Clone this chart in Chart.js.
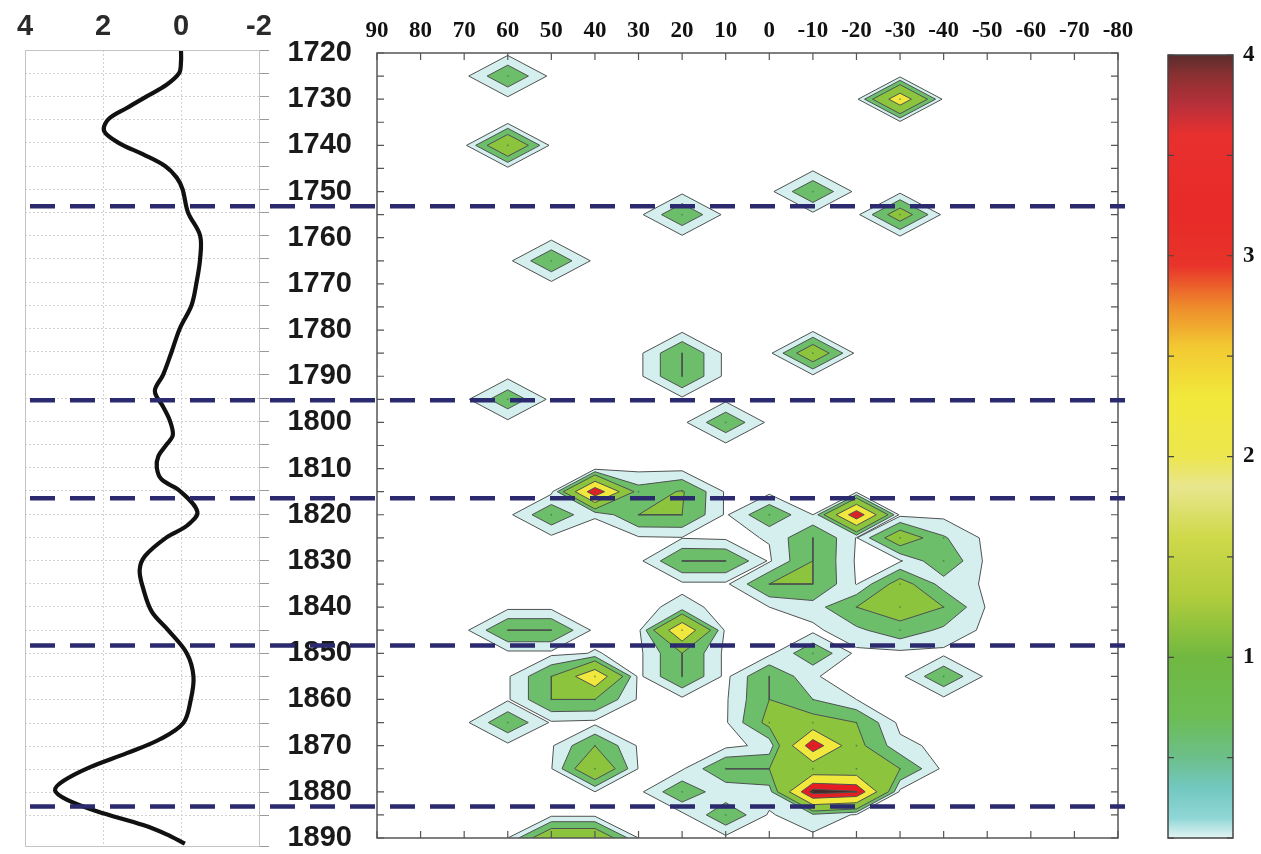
<!DOCTYPE html>
<html>
<head>
<meta charset="utf-8">
<title>Contour chart</title>
<script src="https://cdn.jsdelivr.net/npm/chart.js@4.4.1/dist/chart.umd.min.js"></script>
<style>
  body { margin: 0; background: #fff; }
  #wrap { position: relative; width: 1261px; height: 854px; overflow: hidden; }
  canvas { position: absolute; top: 0; }
  #curve { left: 0; z-index: 1; }
  #contour { left: 0; z-index: 2; }
  #cbar { left: 1140px; z-index: 3; }
</style>
</head>
<body>
<div id="wrap">
  <canvas id="curve" width="280" height="854"></canvas>
  <canvas id="contour" width="1140" height="854"></canvas>
  <canvas id="cbar" width="121" height="854"></canvas>
</div>
<script>
// data
const lons = [90, 80, 70, 60, 50, 40, 30, 20, 10, 0, -10, -20, -30, -40, -50, -60, -70, -80];
const years = [1720, 1725, 1730, 1735, 1740, 1745, 1750, 1755, 1760, 1765, 1770, 1775, 1780, 1785, 1790, 1795, 1800,
  1805, 1810, 1815, 1820, 1825, 1830, 1835, 1840, 1845, 1850, 1855, 1860, 1865, 1870, 1875, 1880, 1885, 1890];

// one row per year, one column per longitude
const grid = [
//90 80 70  60    50    40    30    20    10    0    -10   -20  -30  -40  -50 -60 -70 -80
  [0, 0, 0, 0,    0,    0,    0,    0,    0,    0,    0,    0,   0,   0,   0,   0, 0, 0], // 1720
  [0, 0, 0, 0.95, 0,    0,    0,    0,    0,    0,    0,    0,   0,   0,   0,   0, 0, 0], // 1725
  [0, 0, 0, 0,    0,    0,    0,    0,    0,    0,    0,    0,   2.7, 0,   0,   0, 0, 0], // 1730
  [0, 0, 0, 0,    0,    0,    0,    0,    0,    0,    0,    0,   0,   0,   0,   0, 0, 0], // 1735
  [0, 0, 0, 1.9,  0,    0,    0,    0,    0,    0,    0,    0,   0,   0,   0,   0, 0, 0], // 1740
  [0, 0, 0, 0,    0,    0,    0,    0,    0,    0,    0,    0,   0,   0,   0,   0, 0, 0], // 1745
  [0, 0, 0, 0,    0,    0,    0,    0,    0,    0,    0.95, 0,   0,   0,   0,   0, 0, 0], // 1750
  [0, 0, 0, 0,    0,    0,    0,    0.95, 0,    0,    0,    0,   1.4, 0,   0,   0, 0, 0], // 1755
  [0, 0, 0, 0,    0,    0,    0,    0,    0,    0,    0,    0,   0,   0,   0,   0, 0, 0], // 1760
  [0, 0, 0, 0,    0.95, 0,    0,    0,    0,    0,    0,    0,   0,   0,   0,   0, 0, 0], // 1765
  [0, 0, 0, 0,    0,    0,    0,    0,    0,    0,    0,    0,   0,   0,   0,   0, 0, 0], // 1770
  [0, 0, 0, 0,    0,    0,    0,    0,    0,    0,    0,    0,   0,   0,   0,   0, 0, 0], // 1775
  [0, 0, 0, 0,    0,    0,    0,    0,    0,    0,    0,    0,   0,   0,   0,   0, 0, 0], // 1780
  [0, 0, 0, 0,    0,    0,    0,    1,    0,    0,    1.6,  0,   0,   0,   0,   0, 0, 0], // 1785
  [0, 0, 0, 0,    0,    0,    0,    1,    0,    0,    0,    0,   0,   0,   0,   0, 0, 0], // 1790
  [0, 0, 0, 0.85, 0,    0,    0,    0,    0,    0,    0,    0,   0,   0,   0,   0, 0, 0], // 1795
  [0, 0, 0, 0,    0,    0,    0,    0,    0.9,  0,    0,    0,   0,   0,   0,   0, 0, 0], // 1800
  [0, 0, 0, 0,    0,    0,    0,    0,    0,    0,    0,    0,   0,   0,   0,   0, 0, 0], // 1805
  [0, 0, 0, 0,    0,    0,    0,    0,    0,    0,    0,    0,   0,   0,   0,   0, 0, 0], // 1810
  [0, 0, 0, 0,    0,    3.65, 0.7,  1.05, 0.05, 0,    0,    0,   0,   0,   0,   0, 0, 0], // 1815
  [0, 0, 0, 0,    0.9,  0.12, 1,    1,    0.05, 0.9,  0.1,  3.65,0,   0,   0,   0, 0, 0], // 1820
  [0, 0, 0, 0,    0,    0,    0.05, 0.08, 0.03, 0.12, 1,    0.08,1.5, 0.55,0,   0, 0, 0], // 1825
  [0, 0, 0, 0,    0,    0,    0,    1,    1,    0.05, 1,    0.05,0.05,0.9, 0,   0, 0, 0], // 1830
  [0, 0, 0, 0,    0,    0,    0,    0.02, 0.02, 1,    1,    0.08,1.3, 0.3, 0.05,0, 0, 0], // 1835
  [0, 0, 0, 0,    0,    0,    0,    0.2,  0,    0.1,  0.3,  1,   1.3, 1,   0.05,0, 0, 0], // 1840
  [0, 0, 0, 1,    1,    0,    0,    2.9,  0,    0,    0,    0.4, 0.8, 0.4, 0,   0, 0, 0], // 1845
  [0, 0, 0, 0,    0,    0.12, 0,    1,    0,    0,    0.9,  0,   0,   0,   0,   0, 0, 0], // 1850
  [0, 0, 0, 0.05, 1,    2.8,  0,    1,    0,    1,    0.12, 0,   0,   0.9, 0,   0, 0, 0], // 1855
  [0, 0, 0, 0.05, 1,    1,    0.05, 0,    0.05, 1,    0.5,  0.1, 0,   0,   0,   0, 0, 0], // 1860
  [0, 0, 0, 0.9,  0.05, 0,    0,    0,    0.05, 1.2,  1.3,  1,   0,   0,   0,   0, 0, 0], // 1865
  [0, 0, 0, 0,    0.05, 1,    0.05, 0,    0,    0.2,  3.6,  1.2, 0.2, 0,   0,   0, 0, 0], // 1870
  [0, 0, 0, 0,    0.08, 1.8,  0.08, 0.05, 1,    1,    1.3,  1.3, 1,   0,   0,   0, 0, 0], // 1875
  [0, 0, 0, 0,    0,    0.1,  0,    0.9,  0.15, 0.3,  4,    3.75,0,   0,   0,   0, 0, 0], // 1880
  [0, 0, 0, 0,    0,    0,    0,    0,    0.9,  0.05, 0.4,  0.05,0,   0,   0,   0, 0, 0], // 1885
  [0, 0, 0, 0.1,  1.7,  1.7,  0.1,  0,    0,    0,    0,    0,   0,   0,   0,   0, 0, 0], // 1890
];

const levels = [0.1, 0.5, 1, 2, 3, 3.7];
const levelColors = ['#d5eeee', '#6cbe6a', '#8cc43e', '#f0e83c', '#e61e24', '#482828'];

// left panel curve
const curveYears = [1720, 1722.5, 1725, 1727.5, 1730, 1732.5, 1735, 1737.5, 1740, 1742.5, 1745, 1747.5, 1750, 1755,
  1760, 1765, 1770, 1775, 1780, 1785, 1790, 1793.5, 1797, 1800, 1803, 1805, 1807.5, 1810, 1812.5, 1815, 1819.5,
  1822.5, 1825, 1829, 1832, 1836, 1841, 1845, 1850, 1855, 1860, 1865, 1868.5, 1871.5, 1874.5, 1877.5, 1879.5,
  1881.5, 1884, 1887, 1889, 1891];
const curveValues = [0, 0, 0.05, 0.37, 0.88, 1.39, 1.87, 1.97, 1.6, 0.97, 0.41, 0.11, -0.04, -0.18,
  -0.49, -0.49, -0.4, -0.27, 0.03, 0.24, 0.46, 0.67, 0.45, 0.28, 0.21, 0.37, 0.58, 0.62, 0.5, 0.03, -0.42,
  -0.15, 0.37, 0.92, 1.06, 0.97, 0.75, 0.33, -0.15, -0.32, -0.25, -0.06, 0.54, 1.39, 2.33, 3.02, 3.23,
  2.93, 2.16, 0.97, 0.37, -0.1];

const breakYears = [1753.2, 1795.2, 1816.4, 1848.3, 1883.2];

// colour bar
const cbarRange = [0.1, 4];
const cbarValues = [0.1, 0.2, 0.35, 0.5, 0.7, 1.0, 1.3, 1.6, 1.85, 2.0, 2.3, 2.55, 2.75, 2.95, 3.2, 3.6, 3.75, 3.9, 4.0];
const cbarColors = ['#e4f4f4', '#8fd6d6', '#72c8c0', '#6cbf8a', '#6cbd55', '#70b840', '#b0cc3c', '#cfd94a',
  '#e8e68e', '#ece64e', '#f2e83a', '#f2c832', '#ee8a2c', '#e8342a', '#e82a28', '#e8302e', '#b8303a', '#8a3032', '#5a2c2c'];

// helpers
const sans = '"Liberation Sans", Arial, sans-serif';
const serif = '"Liberation Serif", "Times New Roman", serif';

// region of one grid cell where value >= L, corners in walk order
function cellPolygons(p, f, L) {
  const ins = f.map(v => v >= L);
  const n = ins.filter(Boolean).length;
  if (n === 0) return [];
  const corner = i => ({x: p[i][0], y: p[i][1], on: Math.abs(f[i] - L) < 1e-9});
  const cross = i => {
    const j = (i + 1) % 4;
    const t = (L - f[i]) / (f[j] - f[i]);
    return {x: p[i][0] + t * (p[j][0] - p[i][0]), y: p[i][1] + t * (p[j][1] - p[i][1]), on: true};
  };
  if (n === 2 && ins[0] === ins[2]) {
    const out = [];
    for (let i = 0; i < 4; i++) if (ins[i]) out.push([cross((i + 3) % 4), corner(i), cross(i)]);
    return out;
  }
  const pts = [];
  for (let i = 0; i < 4; i++) {
    if (ins[i]) pts.push(corner(i));
    if (ins[i] !== ins[(i + 1) % 4]) pts.push(cross(i));
  }
  return [pts];
}

const contourPlugin = {
  id: 'contours',
  beforeDatasetsDraw(chart) {
    const {ctx, chartArea: a, scales: {x, y}} = chart;
    const px = lons.map(l => x.getPixelForValue(l));
    const py = years.map(t => y.getPixelForValue(t));
    const lines = [];
    ctx.save();
    ctx.beginPath();
    ctx.rect(a.left, a.top, a.width, a.height);
    ctx.clip();
    levels.forEach((L, k) => {
      ctx.beginPath();
      for (let r = 0; r < years.length - 1; r++) {
        for (let c = 0; c < lons.length - 1; c++) {
          const p = [[px[c], py[r]], [px[c + 1], py[r]], [px[c + 1], py[r + 1]], [px[c], py[r + 1]]];
          const f = [grid[r][c], grid[r][c + 1], grid[r + 1][c + 1], grid[r + 1][c]];
          for (const poly of cellPolygons(p, f, L)) {
            poly.forEach((q, i) => i ? ctx.lineTo(q.x, q.y) : ctx.moveTo(q.x, q.y));
            ctx.closePath();
            poly.forEach((q, i) => {
              const nx = poly[(i + 1) % poly.length];
              if (q.on && nx.on) lines.push([q, nx]);
            });
          }
        }
      }
      ctx.fillStyle = levelColors[k];
      ctx.fill();
    });
    ctx.strokeStyle = '#4e5250';
    ctx.lineWidth = 1;
    ctx.beginPath();
    lines.forEach(([s, e]) => { ctx.moveTo(s.x, s.y); ctx.lineTo(e.x, e.y); });
    ctx.stroke();
    ctx.restore();
  }
};

// ticks pointing into the plot on every side, plus the frame
const innerTicks = {
  id: 'innerTicks',
  afterDraw(chart, args, opts) {
    const {ctx, chartArea: a} = chart;
    const len = opts.len || 7;
    ctx.save();
    ctx.strokeStyle = opts.color || '#555';
    ctx.lineWidth = 1.2;
    ctx.beginPath();
    Object.values(chart.scales).forEach(s => {
      if (!s.options.display || s.type === 'category') return;
      s.ticks.forEach(t => {
        const v = s.getPixelForValue(t.value);
        if (s.isHorizontal()) {
          ctx.moveTo(v, a.top); ctx.lineTo(v, a.top + len);
          ctx.moveTo(v, a.bottom); ctx.lineTo(v, a.bottom - len);
        } else {
          ctx.moveTo(a.left, v); ctx.lineTo(a.left + len, v);
          ctx.moveTo(a.right, v); ctx.lineTo(a.right - len, v);
        }
      });
    });
    ctx.stroke();
    ctx.lineWidth = 1.5;
    ctx.strokeRect(a.left, a.top, a.width, a.height);
    ctx.restore();
  }
};

const breakLines = {
  id: 'breakLines',
  afterDraw(chart) {
    const {ctx, scales: {y}} = chart;
    ctx.save();
    ctx.strokeStyle = '#2b2a6e';
    ctx.lineWidth = 4.5;
    ctx.setLineDash([25, 15]);
    breakYears.forEach(t => {
      const yy = y.getPixelForValue(t);
      ctx.beginPath();
      ctx.moveTo(30, yy);
      ctx.lineTo(1125, yy);
      ctx.stroke();
    });
    ctx.restore();
  }
};

const framePlugin = {
  id: 'frame',
  afterDraw(chart) {
    const {ctx, chartArea: a} = chart;
    ctx.save();
    ctx.strokeStyle = '#c4c4c4';
    ctx.lineWidth = 1;
    ctx.strokeRect(a.left + 0.5, a.top + 0.5, a.width, a.height);
    ctx.restore();
  }
};

const noLegend = {legend: {display: false}, tooltip: {enabled: false}};

// left panel
new Chart(document.getElementById('curve'), {
  type: 'scatter',
  data: {
    datasets: [{
      data: curveYears.map((t, i) => ({x: curveValues[i], y: t})),
      showLine: true,
      borderColor: '#111',
      borderWidth: 4.2,
      pointRadius: 0,
      tension: 0.35,
    }],
  },
  options: {
    responsive: false,
    animation: false,
    layout: {padding: {left: 25, right: 9, top: 0, bottom: 8}},
    plugins: noLegend,
    scales: {
      x: {
        type: 'linear', position: 'top', min: -2, max: 4, reverse: true,
        ticks: {stepSize: 2, maxRotation: 0, padding: 0, color: '#2a2a2a',
          font: {family: sans, weight: 'bold', size: 29, lineHeight: 1}},
        grid: {color: '#d2d2d2', drawTicks: true, tickLength: 9, tickColor: 'rgba(0,0,0,0)'},
        border: {display: false, dash: [2, 2]},
        afterFit: s => { s.height = 50; },
      },
      y: {
        type: 'linear', position: 'right', min: 1720, max: 1891.5, reverse: true,
        ticks: {stepSize: 5, display: false, autoSkip: false},
        grid: {color: '#d2d2d2', tickColor: '#9a9a9a', tickLength: 10, tickBorderDash: []},
        border: {display: false, dash: [2, 2]},
        afterFit: s => { s.width = 12; },
      },
    },
  },
  plugins: [framePlugin],
});

// contour panel
const gridPoints = [];
years.forEach((t, r) => lons.forEach((l, c) => {
  if (grid[r][c] >= 0.5) gridPoints.push({x: l, y: t});
}));

new Chart(document.getElementById('contour'), {
  type: 'scatter',
  data: {
    datasets: [{
      data: gridPoints,
      pointRadius: 0.9,
      pointBorderWidth: 0,
      pointBackgroundColor: 'rgba(40,110,60,0.6)',
    }],
  },
  options: {
    responsive: false,
    animation: false,
    layout: {padding: {left: 0, right: 22, top: 0, bottom: 16}},
    plugins: {...noLegend, innerTicks: {len: 7, color: '#555'}},
    scales: {
      x: {
        type: 'linear', position: 'top', min: -80, max: 90, reverse: true,
        ticks: {stepSize: 10, autoSkip: false, maxRotation: 0, padding: 0, color: '#111',
          font: {family: serif, weight: 'bold', size: 23, lineHeight: 1}},
        grid: {display: false, drawTicks: true, tickLength: 10},
        border: {display: false},
        afterFit: s => { s.height = 53; },
      },
      y: {
        type: 'linear', position: 'left', min: 1720, max: 1890, reverse: true,
        ticks: {stepSize: 5, autoSkip: false, padding: 0, color: '#1a1a1a',
          callback: v => (v % 10 === 0 ? v : ''),
          font: {family: sans, weight: 'bold', size: 29, lineHeight: 1}},
        grid: {display: false, drawTicks: true, tickLength: 25},
        border: {display: false},
        afterFit: s => { s.width = 377; },
      },
    },
  },
  plugins: [contourPlugin, innerTicks, breakLines],
});

// colour bar
new Chart(document.getElementById('cbar'), {
  type: 'bar',
  data: {
    labels: [''],
    datasets: [{
      data: [cbarRange],
      backgroundColor: c => {
        const ch = c.chart;
        const y = ch.scales.y;
        if (!ch.chartArea || !y) return '#ccc';
        const g = ch.ctx.createLinearGradient(0, y.getPixelForValue(cbarRange[0]), 0, y.getPixelForValue(cbarRange[1]));
        cbarValues.forEach((v, i) => g.addColorStop((v - cbarRange[0]) / (cbarRange[1] - cbarRange[0]), cbarColors[i]));
        return g;
      },
      borderWidth: 0,
      barPercentage: 1,
      categoryPercentage: 1,
    }],
  },
  options: {
    responsive: false,
    animation: false,
    layout: {padding: {left: 28, right: 0, top: 55, bottom: 16}},
    plugins: {...noLegend, innerTicks: {len: 6, color: '#444'}},
    scales: {
      x: {display: false},
      y: {
        position: 'right', min: cbarRange[0], max: cbarRange[1],
        ticks: {stepSize: 0.5, autoSkip: false, padding: 0, color: '#111',
          callback: v => (Math.abs(v - Math.round(v)) < 1e-6 ? Math.round(v) : ''),
          font: {family: serif, weight: 'bold', size: 23, lineHeight: 1}},
        grid: {display: false, drawTicks: true, tickLength: 10},
        border: {display: false},
        afterFit: s => { s.width = 28; },
      },
    },
  },
  plugins: [innerTicks],
});
</script>
</body>
</html>
